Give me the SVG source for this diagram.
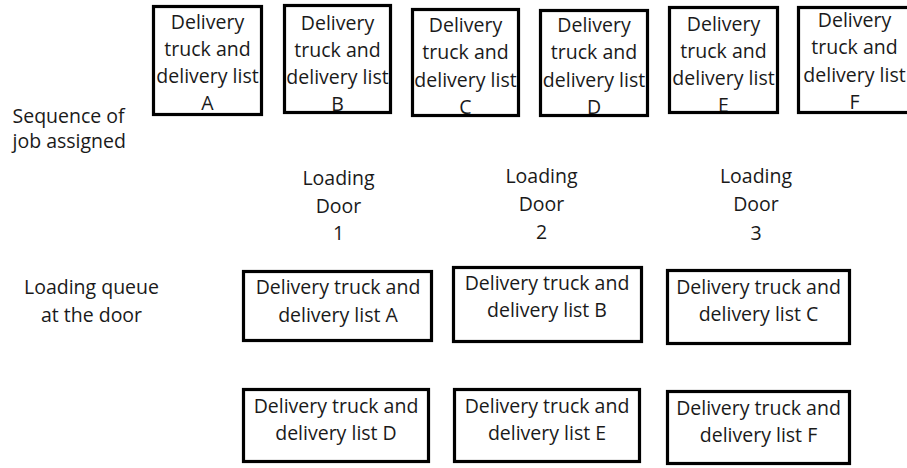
<svg xmlns="http://www.w3.org/2000/svg" width="907" height="468" viewBox="0 0 907 468">
  <style>
    text { font-family: "Open Sans", "Noto Sans", "Liberation Sans", sans-serif; font-size: 19.5px; fill: #1a1a1a; }
    .c { text-anchor: middle; }
    .box { fill: none; stroke: #000; stroke-width: 3.2; }
  </style>
  <rect x="0" y="0" width="907" height="468" fill="#fff"/>

  <g id="labels">
    <text x="12.5" y="122.5">Sequence of</text>
    <text x="12.5" y="148">job assigned</text>
    <text class="c" x="91.5" y="294">Loading queue</text>
    <text class="c" x="91.5" y="321.5">at the door</text>
  </g>

  <g id="door1">
    <text class="c" x="338.5" y="185">Loading</text>
    <text class="c" x="338.5" y="212.5">Door</text>
    <text class="c" x="338.5" y="240">1</text>
  </g>
  <g id="door2">
    <text class="c" x="541.5" y="183">Loading</text>
    <text class="c" x="541.5" y="210.5">Door</text>
    <text class="c" x="541.5" y="238.5">2</text>
  </g>
  <g id="door3">
    <text class="c" x="756" y="183">Loading</text>
    <text class="c" x="756" y="211">Door</text>
    <text class="c" x="756" y="239.5">3</text>
  </g>

  <!-- Sequence of job assigned -->
  <g id="seqA">
    <text class="c" x="207.5" y="28.5">Delivery<tspan x="207.5" dy="27.3">truck and</tspan><tspan x="207.5" dy="27.3">delivery list</tspan><tspan x="207.5" dy="27.3">A</tspan></text>
    <rect class="box" x="153.5" y="6.5" width="108" height="108"/>
  </g>
  <g id="seqB">
    <text class="c" x="337.5" y="29.5">Delivery<tspan x="337.5" dy="27.3">truck and</tspan><tspan x="337.5" dy="27.3">delivery list</tspan><tspan x="337.5" dy="27.3">B</tspan></text>
    <rect class="box" x="284.5" y="5.5" width="106" height="107"/>
  </g>
  <g id="seqC">
    <text class="c" x="465.5" y="32">Delivery<tspan x="465.5" dy="27.3">truck and</tspan><tspan x="465.5" dy="27.3">delivery list</tspan><tspan x="465.5" dy="27.3">C</tspan></text>
    <rect class="box" x="412.5" y="9.5" width="106" height="106"/>
  </g>
  <g id="seqD">
    <text class="c" x="594" y="32">Delivery<tspan x="594" dy="27.3">truck and</tspan><tspan x="594" dy="27.3">delivery list</tspan><tspan x="594" dy="27.3">D</tspan></text>
    <rect class="box" x="540.5" y="10.5" width="107" height="105"/>
  </g>
  <g id="seqE">
    <text class="c" x="723.5" y="30.5">Delivery<tspan x="723.5" dy="27.3">truck and</tspan><tspan x="723.5" dy="27.3">delivery list</tspan><tspan x="723.5" dy="27.3">E</tspan></text>
    <rect class="box" x="669.5" y="7.5" width="108" height="105"/>
  </g>
  <g id="seqF">
    <text class="c" x="854.5" y="27">Delivery<tspan x="854.5" dy="27.3">truck and</tspan><tspan x="854.5" dy="27.3">delivery list</tspan><tspan x="854.5" dy="27.3">F</tspan></text>
    <rect class="box" x="798.5" y="7.5" width="112" height="105"/>
  </g>

  <!-- Loading queue at the door -->
  <g id="queueA">
    <rect class="box" x="243.5" y="271.5" width="188" height="69"/>
    <text class="c" x="338" y="294">Delivery truck and</text>
    <text class="c" x="338" y="321.5">delivery list A</text>
  </g>
  <g id="queueB">
    <rect class="box" x="453.5" y="267.5" width="188" height="74"/>
    <text class="c" x="547" y="290">Delivery truck and</text>
    <text class="c" x="547" y="317">delivery list B</text>
  </g>
  <g id="queueC">
    <rect class="box" x="667.5" y="270.5" width="182" height="73"/>
    <text class="c" x="758.5" y="293.5">Delivery truck and</text>
    <text class="c" x="758.5" y="320.5">delivery list C</text>
  </g>
  <g id="queueD">
    <rect class="box" x="243.5" y="389.5" width="185" height="72"/>
    <text class="c" x="336" y="413">Delivery truck and</text>
    <text class="c" x="336" y="440">delivery list D</text>
  </g>
  <g id="queueE">
    <rect class="box" x="454.5" y="389.5" width="185" height="72"/>
    <text class="c" x="547" y="413">Delivery truck and</text>
    <text class="c" x="547" y="440">delivery list E</text>
  </g>
  <g id="queueF">
    <rect class="box" x="667.5" y="391.5" width="182" height="72"/>
    <text class="c" x="758.5" y="415">Delivery truck and</text>
    <text class="c" x="758.5" y="442">delivery list F</text>
  </g>

  <g id="connectors"/>
</svg>
